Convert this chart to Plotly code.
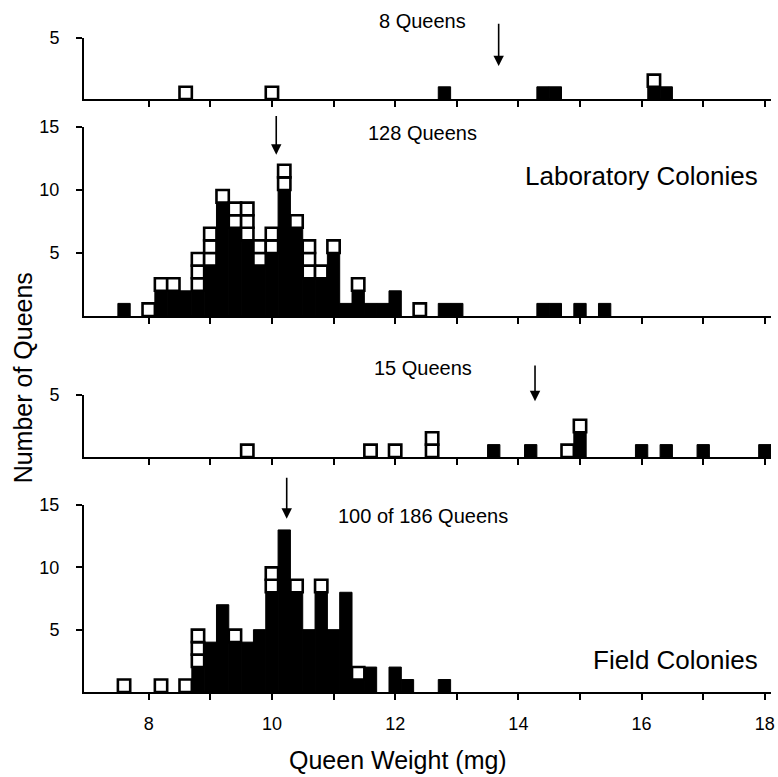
import plotly.graph_objects as go

FONT = "Liberation Sans, Arial, Helvetica, sans-serif"
BIN = 0.2

# ---- Panel 1 : 8 Queens (lab, top) ----
p1_bins = [8.6, 10.0, 12.8, 14.4, 14.6, 16.2, 16.4]
p1_filled = [0, 0, 1, 1, 1, 1, 1]
p1_open = [1, 1, 0, 0, 0, 1, 0]

# ---- Panel 2 : 128 Queens, Laboratory Colonies ----
p2_bins = [7.6, 8.0, 8.2, 8.4, 8.6, 8.8, 9.0, 9.2, 9.4, 9.6, 9.8, 10.0, 10.2, 10.4,
           10.6, 10.8, 11.0, 11.2, 11.4, 11.6, 11.8, 12.0, 12.4, 12.8, 13.0, 14.4,
           14.6, 15.0, 15.4]
p2_filled = [1, 0, 2, 2, 2, 2, 4, 9, 7, 6, 4, 5, 10, 7,
             3, 3, 5, 1, 2, 1, 1, 2, 0, 1, 1, 1,
             1, 1, 1]
p2_open = [0, 1, 1, 1, 0, 3, 3, 1, 2, 3, 2, 2, 2, 1,
           3, 1, 1, 0, 1, 0, 0, 0, 1, 0, 0, 0,
           0, 0, 0]

# ---- Panel 3 : 15 Queens (field, top) ----
p3_bins = [9.6, 11.6, 12.0, 12.6, 13.6, 14.2, 14.8, 15.0, 16.0, 16.4, 17.0, 18.0]
p3_filled = [0, 0, 0, 0, 1, 1, 0, 2, 1, 1, 1, 1]
p3_open = [1, 1, 1, 2, 0, 0, 1, 1, 0, 0, 0, 0]

# ---- Panel 4 : 100 of 186 Queens, Field Colonies ----
p4_bins = [7.6, 8.2, 8.6, 8.8, 9.0, 9.2, 9.4, 9.6, 9.8, 10.0, 10.2, 10.4, 10.6,
           10.8, 11.0, 11.2, 11.4, 11.6, 12.0, 12.2, 12.8]
p4_filled = [0, 0, 0, 2, 4, 7, 4, 4, 5, 8, 13, 8, 5,
             8, 5, 8, 1, 2, 2, 1, 1]
p4_open = [1, 1, 1, 3, 0, 0, 1, 0, 0, 2, 0, 1, 0,
           1, 0, 0, 1, 0, 0, 0, 0]

# labels / arrows (mean weights)
count_labels = ["8 Queens", "128 Queens", "15 Queens", "100 of 186 Queens"]
label_y = [6.4, 14.5, 7.2, 14.1]
arrow_x = [13.68, 10.07, 14.27, 10.24]
arrow_tip = [2.7, 12.8, 4.5, 13.9]
arrow_top = [6.3, 16.0, 7.5, 17.3]
group_labels = [None, "Laboratory Colonies", None, "Field Colonies"]
group_y = [None, 11.1, None, 2.6]

y_max = [5, 15, 5, 15]
y_ticks = [[5], [5, 10, 15], [5], [5, 10, 15]]
x_tick_vals = list(range(8, 19))
x_tick_text = [str(v) if v % 2 == 0 else "" for v in x_tick_vals]

panels = [
    (p1_bins, p1_filled, p1_open),
    (p2_bins, p2_filled, p2_open),
    (p3_bins, p3_filled, p3_open),
    (p4_bins, p4_filled, p4_open),
]

# layout geometry (pixel based)
W, H = 778, 777
ML, MR, MT, MB = 84, 3, 38, 85
PH = H - MT - MB
PW = W - ML - MR
base_px = [99, 316, 457, 692]
top_px = [38, 127, 395, 505]
domains = [[(H - MB - b) / PH, (H - MB - t) / PH] for b, t in zip(base_px, top_px)]
X_RANGE = [6.95, 18.1]


def panel_paper_y(i, val):
    """Convert a data value of panel i to a paper fraction (allows values above range)."""
    d0, d1 = domains[i]
    return d0 + (d1 - d0) * val / y_max[i]


fig = go.Figure()
for i, (bins, filled, opens) in enumerate(panels):
    xa = "x" if i == 0 else f"x{i+1}"
    ya = "y" if i == 0 else f"y{i+1}"
    fx = [b for b, f in zip(bins, filled) if f > 0]
    fy = [f for f in filled if f > 0]
    fig.add_trace(go.Bar(x=fx, y=fy, width=BIN, xaxis=xa, yaxis=ya,
                         marker=dict(color="black", line=dict(color="black", width=1)),
                         showlegend=False, hoverinfo="skip"))
    ox, ob = [], []
    for b, f, o in zip(bins, filled, opens):
        for k in range(o):
            ox.append(b)
            ob.append(f + k)
    fig.add_trace(go.Bar(x=ox, y=[1] * len(ox), base=ob, width=BIN, xaxis=xa, yaxis=ya,
                         marker=dict(color="white", line=dict(color="black", width=2.6)),
                         showlegend=False, hoverinfo="skip"))

layout = dict(
    width=W, height=H, autosize=False,
    margin=dict(l=ML, r=MR, t=MT, b=MB),
    paper_bgcolor="white", plot_bgcolor="white",
    barmode="overlay",
    font=dict(family=FONT, size=18, color="black"),
    showlegend=False,
)
for i in range(4):
    xk = "xaxis" if i == 0 else f"xaxis{i+1}"
    yk = "yaxis" if i == 0 else f"yaxis{i+1}"
    ya = "y" if i == 0 else f"y{i+1}"
    xa = "x" if i == 0 else f"x{i+1}"
    layout[xk] = dict(
        domain=[0, 1], anchor=ya, range=X_RANGE,
        showline=True, linecolor="black", linewidth=2,
        ticks="outside", ticklen=6, tickwidth=1.5, tickcolor="black",
        tickvals=x_tick_vals,
        ticktext=x_tick_text if i == 3 else [""] * len(x_tick_vals),
        showticklabels=(i == 3),
        ticklabelstandoff=8,
        ticklabeloverflow="allow",
        tickfont=dict(size=18, family=FONT),
        showgrid=False, zeroline=False,
    )
    layout[yk] = dict(
        domain=domains[i], anchor=xa, range=[0, y_max[i]],
        showline=True, linecolor="black", linewidth=2,
        ticks="outside", ticklen=6, tickwidth=1.5, tickcolor="black",
        tickvals=y_ticks[i], ticklabelstandoff=13,
        tickfont=dict(size=18, family=FONT),
        showgrid=False, zeroline=False,
    )

annotations = []
for i in range(4):
    xr = "x" if i == 0 else f"x{i+1}"
    yr = "y" if i == 0 else f"y{i+1}"
    annotations.append(dict(x=12.45, y=panel_paper_y(i, label_y[i]), xref=xr, yref="paper",
                            text=count_labels[i],
                            showarrow=False, font=dict(size=20, family=FONT),
                            xanchor="center", yanchor="middle"))
    annotations.append(dict(x=arrow_x[i], y=arrow_tip[i], ax=arrow_x[i], ay=arrow_top[i],
                            xref=xr, yref=yr, axref=xr, ayref=yr, text="",
                            showarrow=True, arrowhead=2, arrowsize=1.3, arrowwidth=1.6,
                            arrowcolor="black", standoff=0, startstandoff=0))
    if group_labels[i]:
        annotations.append(dict(x=17.92, y=panel_paper_y(i, group_y[i]), xref=xr, yref="paper",
                                text=group_labels[i],
                                showarrow=False, font=dict(size=26, family=FONT),
                                xanchor="right", yanchor="middle"))

annotations.append(dict(x=(23 - ML) / PW, y=(H - MB - 378) / PH,
                        xref="paper", yref="paper", text="Number of Queens",
                        textangle=-90, showarrow=False,
                        font=dict(size=25, family=FONT),
                        xanchor="center", yanchor="middle"))
annotations.append(dict(x=(400 - ML) / PW, y=(H - MB - 760) / PH,
                        xref="paper", yref="paper", text="Queen Weight (mg)",
                        showarrow=False, font=dict(size=25, family=FONT),
                        xanchor="center", yanchor="middle"))
layout["annotations"] = annotations

fig.update_layout(**layout)
fig.write_html(
    "out.html",
    config={"displayModeBar": False},
    post_script="document.body.style.margin='0';document.body.style.overflow='hidden';",
)
